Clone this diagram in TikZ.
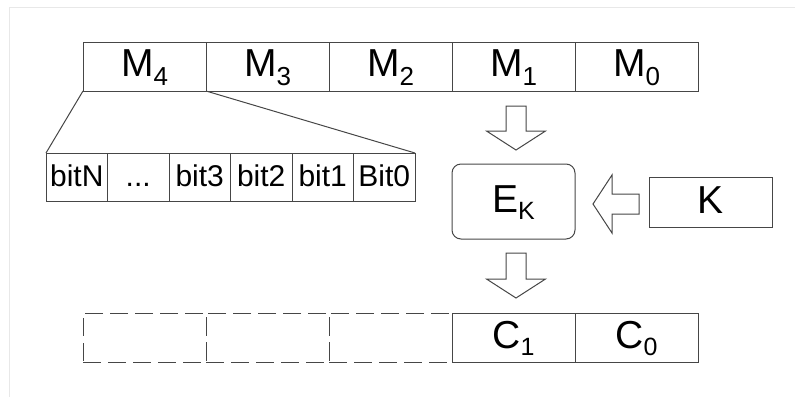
\documentclass[tikz,border=0pt]{standalone}
\usepackage{fontspec}
\setmainfont{Liberation Sans}
\definecolor{linec}{RGB}{70,70,70}
\definecolor{framec}{RGB}{232,232,232}
\newcommand\msub[1]{\raisebox{-9pt}{\fontsize{26}{26}\selectfont #1}}
\newcommand\csub[1]{\raisebox{-7pt}{\fontsize{25}{25}\selectfont #1}}
\begin{document}
\begin{tikzpicture}[x=1pt,y=-1pt,
  cell/.style={draw=linec, line width=1pt, minimum width=123pt, minimum height=49pt,
    inner sep=0pt, outer sep=0pt, text height=20pt, text depth=0pt,
    font=\fontsize{39}{39}\selectfont},
  dcell/.style={cell, dash pattern=on 18pt off 7pt},
  bitcell/.style={draw=linec, line width=1pt, minimum width=61.5pt, minimum height=48pt,
    inner sep=0pt, outer sep=0pt, text height=18pt, text depth=0pt,
    font=\fontsize{30}{30}\selectfont},
  blockarrow/.style={draw=linec, fill=white, line width=1pt, line join=miter}]
\useasboundingbox (0,0) rectangle (795,397);
\draw[framec, line width=1pt] (9.5,397) -- (9.5,7) -- (795,7);
% message blocks
\node[cell] (M4) at (144.5,66.5) {M\msub{4}};
\node[cell] (M3) at (267.5,66.5) {M\msub{3}};
\node[cell] (M2) at (390.5,66.5) {M\msub{2}};
\node[cell] (M1) at (513.5,66.5) {M\msub{1}};
\node[cell] (M0) at (636.5,66.5) {M\msub{0}};
% bits
\node[bitcell] (bN) at (76.75,177) {bitN};
\node[bitcell] (bd) at (138.25,177) {...};
\node[bitcell] (b3) at (199.75,177) {bit3};
\node[bitcell] (b2) at (261.25,177) {bit2};
\node[bitcell] (b1) at (322.75,177) {bit1};
\node[bitcell] (b0) at (384.25,177) {Bit0};
\draw[linec, line width=1pt] (M4.south west) -- (bN.north west);
\draw[linec, line width=1pt] (M4.south east) -- (b0.north east);
% cipher
\node[cell, minimum height=75pt, rounded corners=9pt, text height=22pt] (EK) at (513.5,201.5) {E\csub{K}};
\node[cell, minimum height=50pt, text height=22pt] (K) at (710.5,202) {K};
% output blocks
\node[dcell] (D4) at (144.5,337.5) {};
\node[dcell] (D3) at (267.5,337.5) {};
\node[dcell] (D2) at (390.5,337.5) {};
\node[cell, text height=22pt] (C1) at (513.5,337.5) {C\csub{1}};
\node[cell, text height=22pt] (C0) at (636.5,337.5) {C\csub{0}};
% block arrows
\draw[blockarrow] (506,106) -- (526,106) -- (526,131) -- (545.5,131) -- (516,150)
  -- (486.5,131) -- (506,131) -- cycle;
\draw[blockarrow] (506,253) -- (526,253) -- (526,279) -- (545.5,279) -- (516,298)
  -- (486.5,279) -- (506,279) -- cycle;
\draw[blockarrow] (639,194) -- (639,214) -- (612,214) -- (612,233) -- (593,204)
  -- (612,175) -- (612,194) -- cycle;
\end{tikzpicture}
\end{document}
